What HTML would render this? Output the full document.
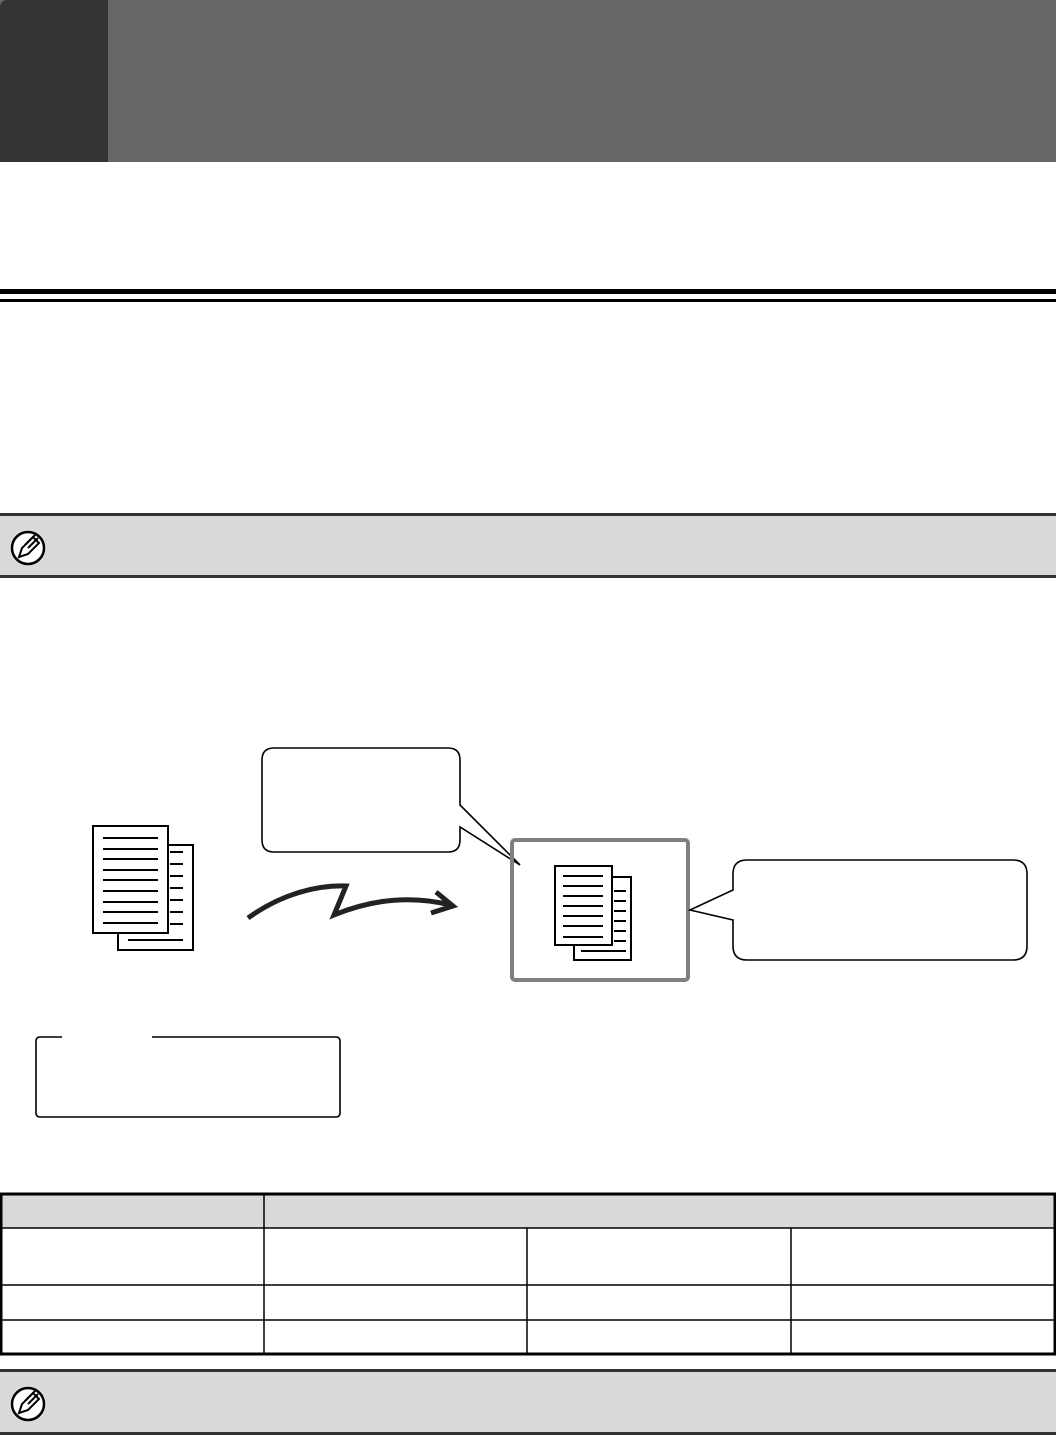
<!DOCTYPE html>
<html><head><style>html,body{margin:0;padding:0;background:#fff}svg{display:block}</style></head>
<body>
<svg width="1056" height="1436" viewBox="0 0 1056 1436" xmlns="http://www.w3.org/2000/svg">
<rect x="0" y="0" width="1056" height="162" fill="#666"/>
<path d="M0 8 Q0 0 8 0 H108 V162 H0 Z" fill="#333"/>
<rect x="0" y="289" width="1056" height="5" fill="#000"/>
<rect x="0" y="299" width="1056" height="3" fill="#000"/>
<!-- note 1 -->
<rect x="0" y="514" width="1056" height="64" fill="#d9d9d9"/>
<rect x="0" y="513" width="1056" height="3" fill="#333"/>
<rect x="0" y="575" width="1056" height="3" fill="#333"/>
<g transform="translate(28,548)">
<circle r="16" fill="#fff" stroke="#000" stroke-width="2.5"/>
<path d="M-9 9 L-6 0 L5 -11 L11 -5 L0 6 Z" fill="#fff" stroke="#000" stroke-width="2"/>
<path d="M-3 -3 L7 -13 M0 0 L10 -10" stroke="#000" stroke-width="2"/>
</g>
<!-- left docs -->
<g fill="#fff" stroke="#000" stroke-width="2">
<rect x="118" y="845" width="75" height="105"/>
<rect x="93" y="826" width="75" height="107"/>
</g>
<g stroke="#000" stroke-width="2">
<path d="M103 838H158M103 849H158M103 859H158M103 870H158M103 880H158M103 891H158M103 902H158M103 912H158M103 923H158"/>
<path d="M170 852H183M170 864H183M170 876H183M170 888H183M170 900H183M170 912H183M170 924H183M128 940H183"/>
</g>
<!-- arrow -->
<path d="M248 918 C280 895 315 885 346 886 L334 915 C370 900 410 895 451 905" fill="none" stroke="#222" stroke-width="5" stroke-linejoin="miter"/>
<path d="M436 892 L453 906 L431 913" fill="none" stroke="#222" stroke-width="5"/>
<!-- callout 1 -->
<path d="M274 748 H448 Q460 748 460 760 V805 L520 865 L460 827 V840 Q460 852 448 852 H274 Q262 852 262 840 V760 Q262 748 274 748 Z" fill="#fff" stroke="#000" stroke-width="1.6"/>
<!-- gray box -->
<rect x="512" y="840" width="176" height="140" rx="3" fill="none" stroke="#808080" stroke-width="4"/>
<g fill="#fff" stroke="#000" stroke-width="2">
<rect x="574" y="877" width="57" height="83"/>
<rect x="555" y="866" width="57" height="79"/>
</g>
<g stroke="#000" stroke-width="2">
<path d="M563 876H603M563 886H603M563 896H603M563 906H603M563 916H603M563 926H603M563 937H603"/>
<path d="M614 891H626M614 901H626M614 911H626M614 921H626M614 931H626M614 941H626M581 951H626"/>
</g>
<!-- callout 2 -->
<path d="M747 860 H1013 Q1027 860 1027 874 V946 Q1027 960 1013 960 H747 Q733 960 733 946 V920 L690 910 L733 890 V874 Q733 860 747 860 Z" fill="#fff" stroke="#000" stroke-width="1.6"/>
<!-- box 3 -->
<path d="M62 1037 H40 Q36 1037 36 1041 V1113 Q36 1117 40 1117 H336 Q340 1117 340 1113 V1041 Q340 1037 336 1037 H152" fill="none" stroke="#000" stroke-width="1.6"/>
<!-- table -->
<rect x="1" y="1194" width="1054" height="34" fill="#d9d9d9"/>
<g stroke="#000" stroke-width="1.5">
<path d="M0 1228H1056M0 1285H1056M0 1320H1056"/>
<path d="M264 1193V1354M527 1228V1354M791 1228V1354"/>
</g>
<rect x="1" y="1194" width="1054" height="160" fill="none" stroke="#000" stroke-width="3"/>
<!-- note 2 -->
<rect x="0" y="1370" width="1056" height="64" fill="#d9d9d9"/>
<rect x="0" y="1369" width="1056" height="3" fill="#333"/>
<rect x="0" y="1432" width="1056" height="3" fill="#333"/>
<g transform="translate(28,1404)">
<circle r="16" fill="#fff" stroke="#000" stroke-width="2.5"/>
<path d="M-9 9 L-6 0 L5 -11 L11 -5 L0 6 Z" fill="#fff" stroke="#000" stroke-width="2"/>
<path d="M-3 -3 L7 -13 M0 0 L10 -10" stroke="#000" stroke-width="2"/>
</g>
</svg>
</body></html>
